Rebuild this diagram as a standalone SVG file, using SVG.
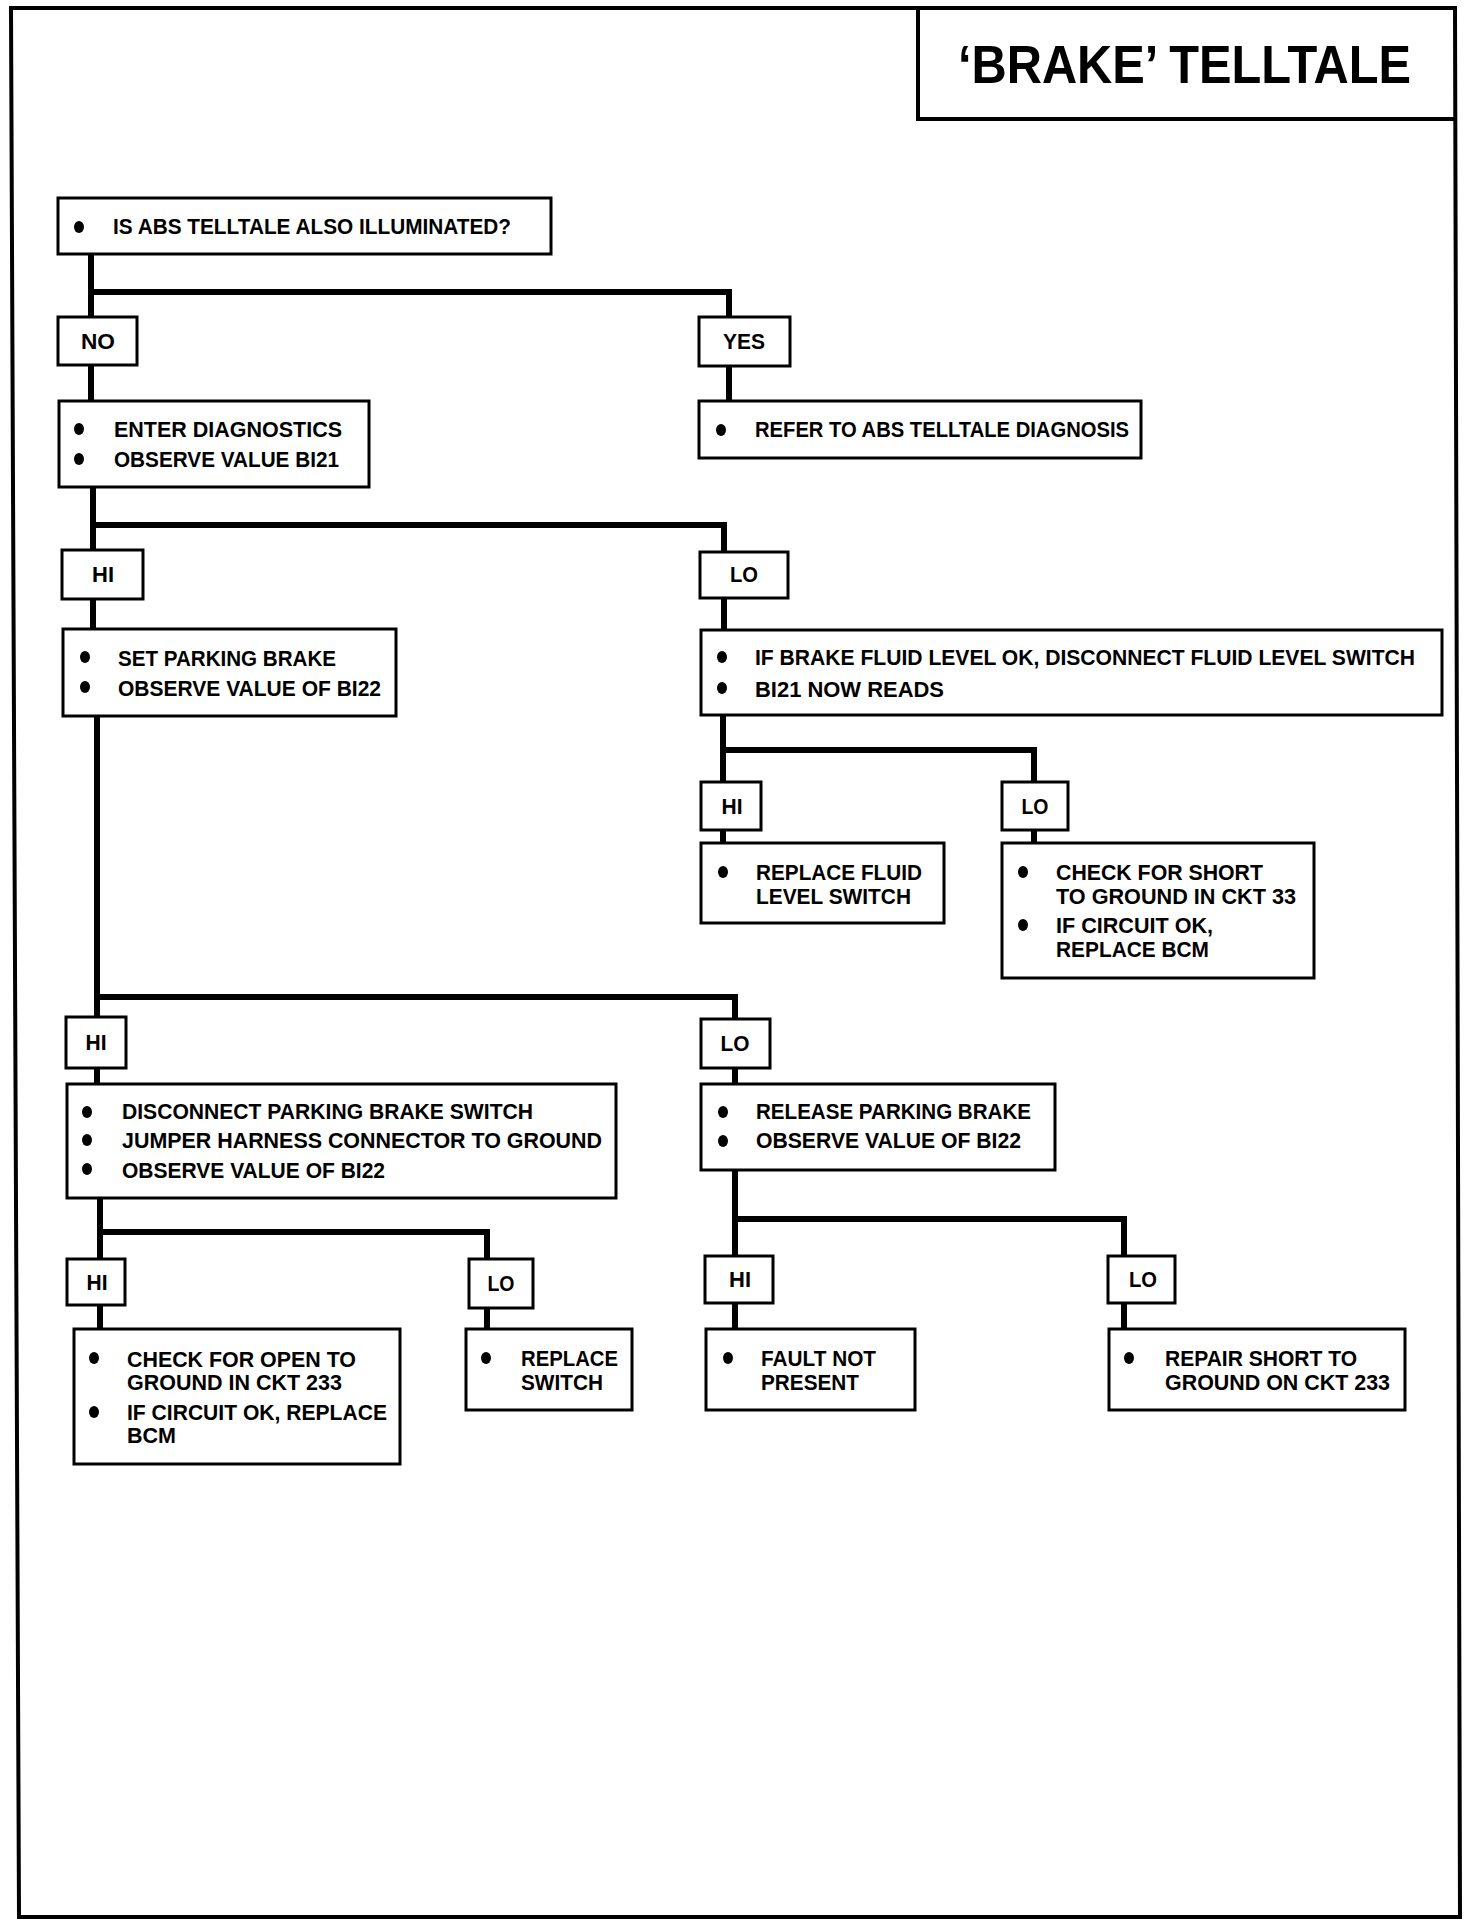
<svg xmlns="http://www.w3.org/2000/svg" width="1472" height="1926" viewBox="0 0 1472 1926">
<style>
.box{fill:#fff;stroke:#000;stroke-width:3}
.con{fill:none;stroke:#000;stroke-width:6;stroke-linejoin:miter;stroke-linecap:butt}
text{font-family:"Liberation Sans",Arial,sans-serif;font-weight:bold;font-size:22.5px;fill:#000}
.lbl{text-anchor:middle}
.title{font-size:53px}
.b{fill:#000}
</style>
<rect width="1472" height="1926" fill="#fff"/>
<path d="M11,8 L1455,8 L1460,1917 L19,1917 Z" fill="none" stroke="#000" stroke-width="4"/>
<g id="title">
<path d="M918,8 L918,119 L1456,119" fill="none" stroke="#000" stroke-width="4"/>
<text class="title" x="958" y="83" textLength="453" lengthAdjust="spacingAndGlyphs">‘BRAKE’ TELLTALE</text>
</g>
<g id="connectors">
<path class="con" d="M91,254 V401 M91,292 H729 V401"/>
<path class="con" d="M93,487 V629 M93,525 H724 V630"/>
<path class="con" d="M97,716 V1084 M97,997 H735 V1084"/>
<path class="con" d="M723,715 V843 M723,750 H1034 V843"/>
<path class="con" d="M100,1198 V1329 M100,1232 H487 V1329"/>
<path class="con" d="M735,1170 V1329 M735,1219 H1124 V1329"/>
</g>
<g id="n_abs">
<rect class="box" x="58" y="198" width="493" height="56"/>
<ellipse class="b" cx="79" cy="227" rx="5" ry="6"/>
<text x="113" y="234" textLength="398" lengthAdjust="spacingAndGlyphs">IS ABS TELLTALE ALSO ILLUMINATED?</text>
</g>
<g id="l_no"><rect class="box" x="58" y="317" width="79" height="48"/><text class="lbl" x="98" y="349" textLength="34" lengthAdjust="spacingAndGlyphs">NO</text></g>
<g id="l_yes"><rect class="box" x="699" y="317" width="91" height="49"/><text class="lbl" x="744" y="349" textLength="42" lengthAdjust="spacingAndGlyphs">YES</text></g>
<g id="n_refer">
<rect class="box" x="699" y="401" width="442" height="57"/>
<ellipse class="b" cx="721" cy="430" rx="5" ry="6"/>
<text x="755" y="437" textLength="374" lengthAdjust="spacingAndGlyphs">REFER TO ABS  TELLTALE DIAGNOSIS</text>
</g>
<g id="n_enter">
<rect class="box" x="59" y="401" width="310" height="86"/>
<ellipse class="b" cx="79" cy="429" rx="5" ry="6"/>
<ellipse class="b" cx="79" cy="459" rx="5" ry="6"/>
<text x="114" y="437" textLength="228" lengthAdjust="spacingAndGlyphs">ENTER DIAGNOSTICS</text>
<text x="114" y="467" textLength="225" lengthAdjust="spacingAndGlyphs">OBSERVE VALUE BI21</text>
</g>
<g id="l_hi1"><rect class="box" x="62" y="550" width="81" height="49"/><text class="lbl" x="103" y="582" textLength="22" lengthAdjust="spacingAndGlyphs">HI</text></g>
<g id="l_lo1"><rect class="box" x="700" y="552" width="88" height="46"/><text class="lbl" x="744" y="582" textLength="28" lengthAdjust="spacingAndGlyphs">LO</text></g>
<g id="n_set">
<rect class="box" x="63" y="629" width="333" height="87"/>
<ellipse class="b" cx="85" cy="657" rx="5" ry="6"/>
<ellipse class="b" cx="85" cy="687" rx="5" ry="6"/>
<text x="118" y="666" textLength="218" lengthAdjust="spacingAndGlyphs">SET PARKING BRAKE</text>
<text x="118" y="696" textLength="263" lengthAdjust="spacingAndGlyphs">OBSERVE VALUE OF BI22</text>
</g>
<g id="n_fluid">
<rect class="box" x="701" y="630" width="741" height="85"/>
<ellipse class="b" cx="722" cy="657" rx="5" ry="6"/>
<ellipse class="b" cx="722" cy="688" rx="5" ry="6"/>
<text x="755" y="665" textLength="660" lengthAdjust="spacingAndGlyphs">IF BRAKE FLUID LEVEL OK, DISCONNECT FLUID LEVEL SWITCH</text>
<text x="755" y="697" textLength="189" lengthAdjust="spacingAndGlyphs">BI21 NOW  READS</text>
</g>
<g id="l_hi2"><rect class="box" x="701" y="782" width="60" height="48"/><text class="lbl" x="732" y="814" textLength="21" lengthAdjust="spacingAndGlyphs">HI</text></g>
<g id="l_lo2"><rect class="box" x="1002" y="782" width="66" height="48"/><text class="lbl" x="1035" y="814" textLength="27" lengthAdjust="spacingAndGlyphs">LO</text></g>
<g id="n_replfluid">
<rect class="box" x="701" y="843" width="243" height="80"/>
<ellipse class="b" cx="723" cy="872" rx="5" ry="6"/>
<text x="756" y="880" textLength="166" lengthAdjust="spacingAndGlyphs">REPLACE FLUID</text>
<text x="756" y="904" textLength="155" lengthAdjust="spacingAndGlyphs">LEVEL SWITCH</text>
</g>
<g id="n_checkshort">
<rect class="box" x="1002" y="843" width="312" height="135"/>
<ellipse class="b" cx="1023" cy="872" rx="5" ry="6"/>
<ellipse class="b" cx="1023" cy="925" rx="5" ry="6"/>
<text x="1056" y="880" textLength="207" lengthAdjust="spacingAndGlyphs">CHECK FOR SHORT</text>
<text x="1056" y="904" textLength="240" lengthAdjust="spacingAndGlyphs">TO GROUND IN CKT 33</text>
<text x="1056" y="933" textLength="157" lengthAdjust="spacingAndGlyphs">IF CIRCUIT OK,</text>
<text x="1056" y="957" textLength="153" lengthAdjust="spacingAndGlyphs">REPLACE BCM</text>
</g>
<g id="l_hi3"><rect class="box" x="66" y="1017" width="60" height="51"/><text class="lbl" x="96" y="1050" textLength="21" lengthAdjust="spacingAndGlyphs">HI</text></g>
<g id="l_lo3"><rect class="box" x="701" y="1019" width="69" height="49"/><text class="lbl" x="735" y="1051" textLength="29" lengthAdjust="spacingAndGlyphs">LO</text></g>
<g id="n_disconnect">
<rect class="box" x="67" y="1084" width="549" height="114"/>
<ellipse class="b" cx="87" cy="1112" rx="5" ry="6"/>
<ellipse class="b" cx="87" cy="1140" rx="5" ry="6"/>
<ellipse class="b" cx="87" cy="1169" rx="5" ry="6"/>
<text x="122" y="1119" textLength="411" lengthAdjust="spacingAndGlyphs">DISCONNECT PARKING BRAKE SWITCH</text>
<text x="122" y="1148" textLength="480" lengthAdjust="spacingAndGlyphs">JUMPER HARNESS CONNECTOR TO GROUND</text>
<text x="122" y="1178" textLength="263" lengthAdjust="spacingAndGlyphs">OBSERVE VALUE OF BI22</text>
</g>
<g id="n_release">
<rect class="box" x="701" y="1084" width="354" height="86"/>
<ellipse class="b" cx="723" cy="1112" rx="5" ry="6"/>
<ellipse class="b" cx="723" cy="1141" rx="5" ry="6"/>
<text x="756" y="1119" textLength="275" lengthAdjust="spacingAndGlyphs">RELEASE PARKING BRAKE</text>
<text x="756" y="1148" textLength="265" lengthAdjust="spacingAndGlyphs">OBSERVE VALUE OF BI22</text>
</g>
<g id="l_hi4"><rect class="box" x="67" y="1259" width="58" height="46"/><text class="lbl" x="97" y="1290" textLength="21" lengthAdjust="spacingAndGlyphs">HI</text></g>
<g id="l_lo4"><rect class="box" x="469" y="1259" width="64" height="49"/><text class="lbl" x="501" y="1291" textLength="27" lengthAdjust="spacingAndGlyphs">LO</text></g>
<g id="l_hi5"><rect class="box" x="705" y="1256" width="68" height="47"/><text class="lbl" x="740" y="1287" textLength="22" lengthAdjust="spacingAndGlyphs">HI</text></g>
<g id="l_lo5"><rect class="box" x="1108" y="1256" width="67" height="47"/><text class="lbl" x="1143" y="1287" textLength="28" lengthAdjust="spacingAndGlyphs">LO</text></g>
<g id="n_checkopen">
<rect class="box" x="74" y="1329" width="326" height="135"/>
<ellipse class="b" cx="94" cy="1358" rx="5" ry="6"/>
<ellipse class="b" cx="94" cy="1412" rx="5" ry="6"/>
<text x="127" y="1367" textLength="229" lengthAdjust="spacingAndGlyphs">CHECK FOR OPEN TO</text>
<text x="127" y="1390" textLength="215" lengthAdjust="spacingAndGlyphs">GROUND IN CKT 233</text>
<text x="127" y="1420" textLength="260" lengthAdjust="spacingAndGlyphs">IF CIRCUIT OK, REPLACE</text>
<text x="127" y="1443" textLength="49" lengthAdjust="spacingAndGlyphs">BCM</text>
</g>
<g id="n_replswitch">
<rect class="box" x="466" y="1329" width="166" height="81"/>
<ellipse class="b" cx="486" cy="1358" rx="5" ry="6"/>
<text x="521" y="1366" textLength="97" lengthAdjust="spacingAndGlyphs">REPLACE</text>
<text x="521" y="1390" textLength="82" lengthAdjust="spacingAndGlyphs">SWITCH</text>
</g>
<g id="n_fault">
<rect class="box" x="706" y="1329" width="209" height="81"/>
<ellipse class="b" cx="728" cy="1358" rx="5" ry="6"/>
<text x="761" y="1366" textLength="115" lengthAdjust="spacingAndGlyphs">FAULT NOT</text>
<text x="761" y="1390" textLength="98" lengthAdjust="spacingAndGlyphs">PRESENT</text>
</g>
<g id="n_repair">
<rect class="box" x="1109" y="1329" width="296" height="81"/>
<ellipse class="b" cx="1129" cy="1358" rx="5" ry="6"/>
<text x="1165" y="1366" textLength="192" lengthAdjust="spacingAndGlyphs">REPAIR SHORT TO</text>
<text x="1165" y="1390" textLength="225" lengthAdjust="spacingAndGlyphs">GROUND ON CKT 233</text>
</g>
</svg>
